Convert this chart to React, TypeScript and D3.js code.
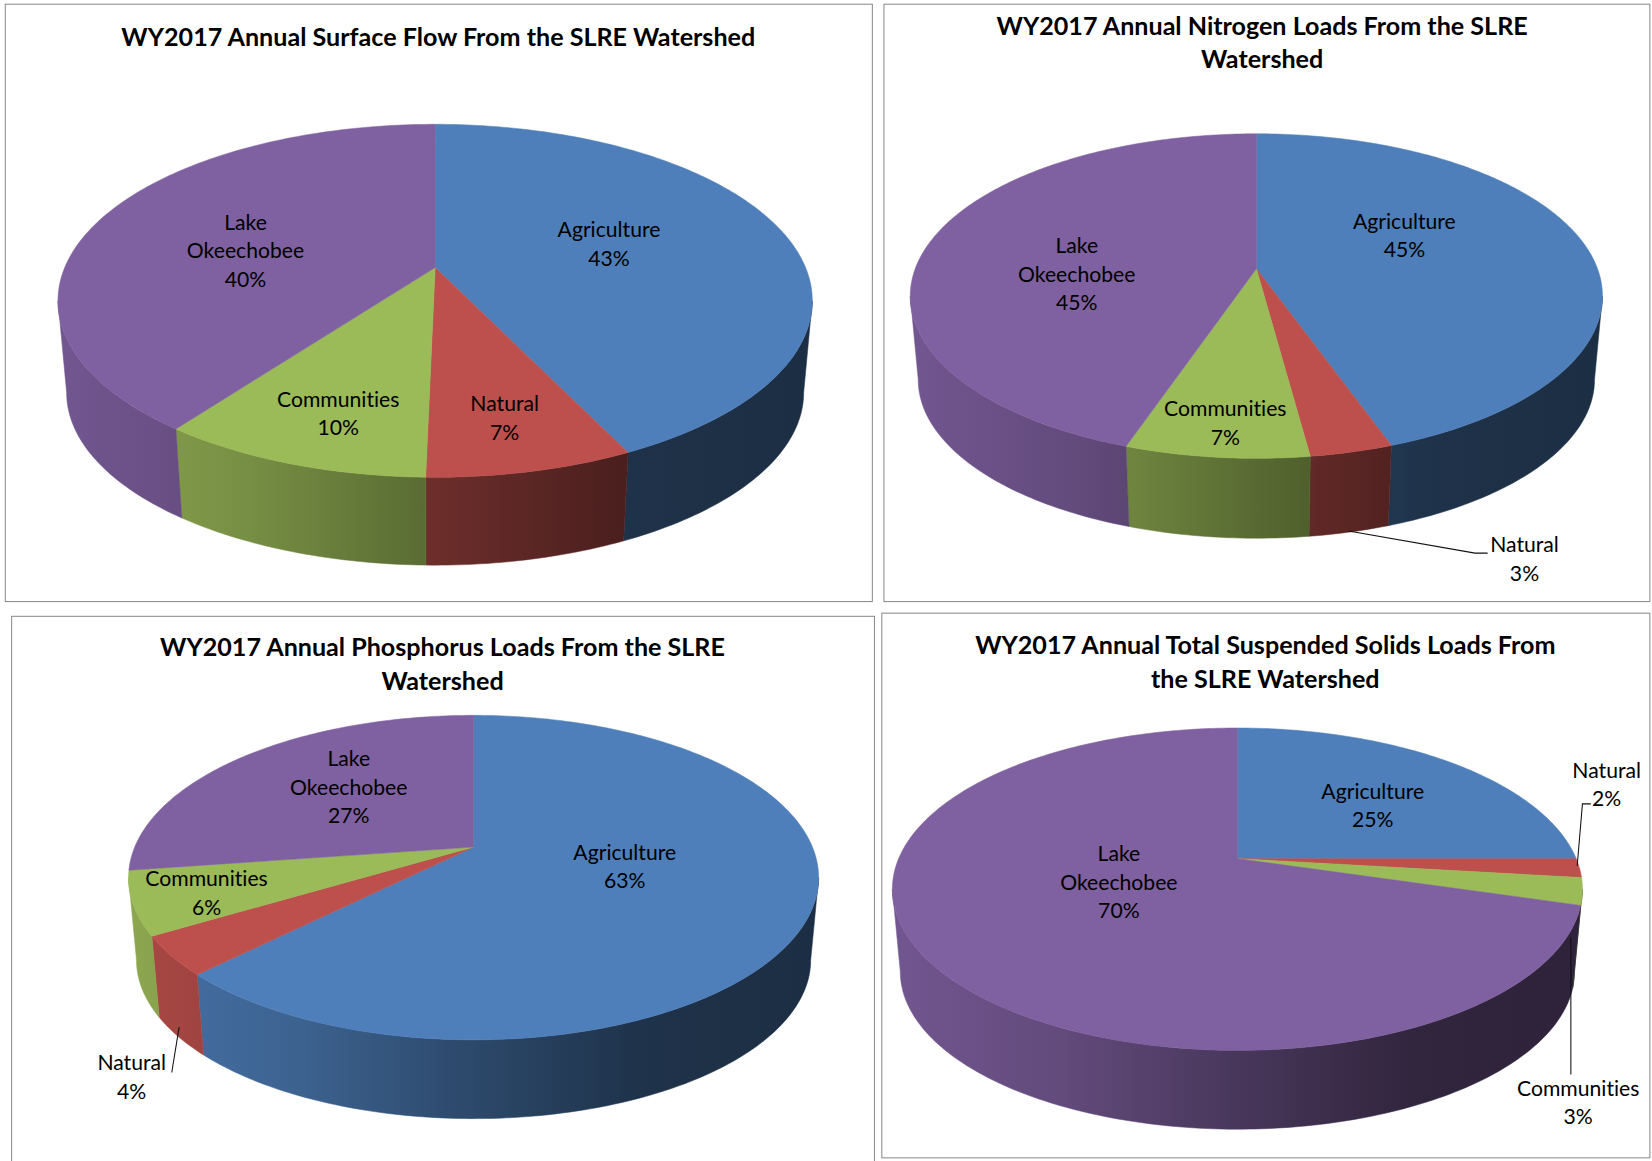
import React from "react";
import * as d3 from "d3";

// values, clockwise from 12 o'clock
const categories = ["Agriculture", "Natural", "Communities", "Lake Okeechobee"];
const flowValues = [42.88, 7.45, 9.79, 39.88];
const nitrogenValues = [44.6, 3.3, 7.3, 44.8];
const phosphorusValues = [62.5, 3.9, 6.3, 27.3];
const solidsValues = [25.0, 1.9, 2.7, 70.4];

const flowTitle = ["WY2017 Annual Surface Flow From the SLRE Watershed"];
const nitrogenTitle = ["WY2017 Annual Nitrogen Loads From the SLRE", "Watershed"];
const phosphorusTitle = ["WY2017 Annual Phosphorus Loads From the SLRE", "Watershed"];
const solidsTitle = ["WY2017 Annual Total Suspended Solids Loads From", "the SLRE Watershed"];

const baseColors = ["#4e7fba", "#bd504c", "#9bba58", "#7f60a0"];

const shade = d3.scaleLinear().domain([0, 0.25, 0.5, 0.75, 1]).range([0.9, 0.77, 0.57, 0.39, 0.36]);

// layout, in the units of the 1568 wide viewBox
const panels = [
  {
    id: "flow", values: flowValues, title: flowTitle, titleX: 416, titleY: 44,
    frame: [5, 4, 823, 567], cx: 413, rx: 358, top: 118, apex: 254, bottom: 453, depth: 88,
    labels: [[578, 218], [479, 383], [321, 379], [233, 211]],
    leaders: [],
  },
  {
    id: "nitrogen", values: nitrogenValues, title: nitrogenTitle, titleX: 1198, titleY: 33,
    frame: [839, 4, 727, 567], cx: 1192.5, rx: 328.5, top: 127, apex: 255, bottom: 435, depth: 80,
    labels: [[1333, 210], [1447, 517], [1163, 388], [1022, 233]],
    leaders: [[[1280, 504], [1400, 525], [1412, 525]]],
  },
  {
    id: "phosphorus", values: phosphorusValues, title: phosphorusTitle, titleX: 420, titleY: 623,
    frame: [11, 585, 819, 530], cx: 449.5, rx: 327.5, top: 679, apex: 804, bottom: 987, depth: 79,
    labels: [[593, 809], [125, 1009], [196, 834], [331, 720]],
    leaders: [[[170, 975], [163, 1018]]],
  },
  {
    id: "solids", values: solidsValues, title: solidsTitle, titleX: 1201, titleY: 621,
    frame: [837, 582, 729, 517], cx: 1174.5, rx: 327.5, top: 691, apex: 815, bottom: 997, depth: 79,
    labels: [[1303, 751], [1525, 731], [1498, 1033], [1062, 810]],
    leaders: [[[1497, 822], [1502, 763], [1510, 763]], [[1491, 890], [1491, 1020]]],
  },
];

const wallScale = 0.977;
const lineGap = 27.3;
const fontFamily = "Lato, Carlito, Calibri, sans-serif";

function PiePanel({ panel }: { panel: any }) {
  const { cx, rx, top, apex, bottom, depth } = panel;

  // perspective tilt: a flat circle seen from above, nearer at the front
  const k = (2 * apex - top - bottom) / (bottom - top);
  const R = rx * Math.sqrt(1 - k * k);
  const project = (angle: number): [number, number] => {
    const u = Math.sin(angle);
    const v = -Math.cos(angle);
    const w = 1 + k * v;
    return [cx + (R * u) / w, apex + ((bottom - apex) * (1 + k) * v) / w];
  };
  const projectLow = (angle: number): [number, number] => {
    const [x, y] = project(angle);
    return [cx + wallScale * (x - cx), apex + depth + wallScale * (y - apex)];
  };

  const arcs = d3.pie<number>().sort(null)(panel.values);
  const line = d3.line();
  const step = Math.PI / 180;
  const sample = (a: number, b: number) => {
    const n = Math.max(2, Math.ceil((b - a) / step));
    return d3.range(n + 1).map((i) => a + ((b - a) * i) / n);
  };

  const wallFrom = Math.acos(k);
  const wallTo = 2 * Math.PI - wallFrom;

  return (
    <g>
      <rect x={panel.frame[0]} y={panel.frame[1]} width={panel.frame[2]} height={panel.frame[3]}
        fill="#fff" stroke="#8c8c8c" strokeWidth={1} />
      <defs>
        {baseColors.map((color, i) => (
          <linearGradient key={i} id={`${panel.id}-wall-${i}`} gradientUnits="userSpaceOnUse"
            x1={cx - rx} x2={cx + rx} y1={0} y2={0}>
            {shade.domain().map((t) => {
              const c = d3.rgb(color);
              const f = shade(t);
              return <stop key={t} offset={t} stopColor={d3.rgb(c.r * f, c.g * f, c.b * f).formatHex()} />;
            })}
          </linearGradient>
        ))}
      </defs>

      {arcs.map((d, i) => {
        const a = Math.max(d.startAngle, wallFrom);
        const b = Math.min(d.endAngle, wallTo);
        if (b <= a) return null;
        const angles = sample(a, b);
        const points = [...angles.map(project), ...angles.slice().reverse().map(projectLow)];
        return <path key={i} d={line(points) + "Z"} fill={`url(#${panel.id}-wall-${i})`}
          stroke={`url(#${panel.id}-wall-${i})`} strokeWidth={0.5} />;
      })}

      {arcs.map((d, i) => {
        const points = [[cx, apex] as [number, number], ...sample(d.startAngle, d.endAngle).map(project)];
        return <path key={i} d={line(points) + "Z"} fill={baseColors[i]} stroke={baseColors[i]} strokeWidth={0.5} />;
      })}

      {panel.leaders.map((pts: [number, number][], i: number) => (
        <path key={i} d={line(pts) ?? undefined} fill="none" stroke="#111" strokeWidth={1} />
      ))}

      {panel.title.map((t: string, i: number) => (
        <text key={t} x={panel.titleX} y={panel.titleY + i * 32} textAnchor="middle"
          fontFamily={fontFamily} fontWeight={700} fontSize={23.85} fill="#000"
          style={{ fontVariantLigatures: "none" }}>{t}</text>
      ))}

      {arcs.map((d, i) => {
        const [x, y] = panel.labels[i];
        const name = categories[i] === "Lake Okeechobee" ? ["Lake", "Okeechobee"] : [categories[i]];
        const rows = [...name, `${Math.round(d.value)}%`];
        return (
          <text key={i} fontFamily={fontFamily} fontSize={20.1} fill="#000" textAnchor="middle"
            style={{ fontVariantLigatures: "none" }}>
            {rows.map((r, j) => (
              <tspan key={j} x={x} y={y + 7 + j * lineGap}>{r}</tspan>
            ))}
          </text>
        );
      })}
    </g>
  );
}

export default function App() {
  return (
    <svg width={1652} height={1161} viewBox="0 0 1568 1102"
      style={{ position: "absolute", left: 0, top: 0, display: "block", background: "#fff" }}>
      {panels.map((p) => <PiePanel key={p.id} panel={p} />)}
    </svg>
  );
}
